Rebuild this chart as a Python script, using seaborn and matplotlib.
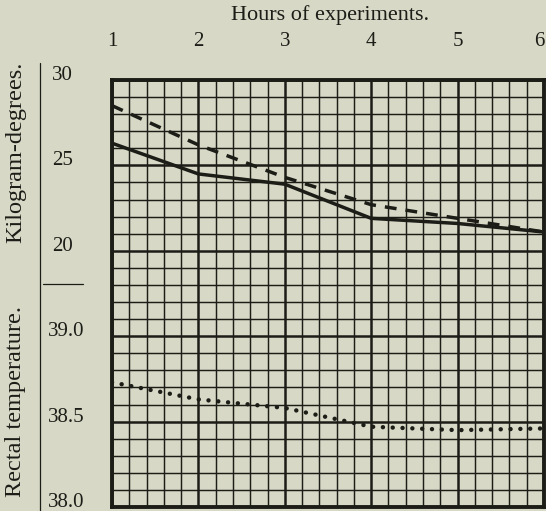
import matplotlib
matplotlib.use("Agg")
import matplotlib.pyplot as plt
import matplotlib.transforms as mtransforms
from matplotlib.lines import Line2D
import pandas as pd
import seaborn as sns

# Hourly readings
hours = [1, 2, 3, 4, 5, 6]
kg_degrees_solid = [26.3, 24.5, 23.9, 21.9, 21.6, 21.1]
kg_degrees_dashed = [28.5, 26.2, 24.3, 22.7, 21.9, 21.1]
rectal_temp = [38.73, 38.63, 38.58, 38.47, 38.45, 38.46]

hour_labels = ["1", "2", "3", "4", "5", "6"]
kg_ticks = [30, 25, 20]
temp_ticks = [39.0, 38.5, 38.0]
temp_tick_labels = ["39.0", "38.5", "38.0"]

sns.set_theme(style="white")
plt.rcParams["font.family"] = ["Liberation Serif", "DejaVu Serif"]

paper = "#d7d9c6"
ink = "#1d1d18"
W, H = 546, 511

fig = plt.figure(figsize=(W / 100, H / 100), dpi=100, facecolor=paper)
ax = fig.add_axes([112 / W, 1 - 507 / H, (544 - 112) / W, (507 - 80) / H])
ax.set_facecolor(paper)

kg = pd.DataFrame({
    "hour": hours * 2,
    "value": kg_degrees_solid + kg_degrees_dashed,
    "series": ["solid"] * len(hours) + ["dashed"] * len(hours),
})
sns.lineplot(data=kg, x="hour", y="value", style="series",
             dashes={"solid": "", "dashed": (3.4, 2.6)},
             color=ink, lw=2.5, legend=False, ax=ax, zorder=5,
             solid_capstyle="butt")

ax2 = ax.twinx()
temp = pd.DataFrame({"hour": hours, "temp": rectal_temp})
sns.lineplot(data=temp, x="hour", y="temp", color=ink, lw=3.2,
             linestyle=(0, (0.01, 2.2)), dash_capstyle="round",
             legend=False, ax=ax2, zorder=5)

ax.set_xlim(1, 6)
ax.set_ylim(5, 30)
ax2.set_ylim(38.0, 40.5)
ax2.set_axis_off()

# ruled paper: fine lines every 0.2 h / 1 unit, heavier every hour / 5 units
ax.set_xticks(hours)
ax.set_xticks([1 + i * 0.2 for i in range(26)], minor=True)
ax.set_yticks([5, 10, 15, 20, 25, 30])
ax.set_yticks(list(range(5, 31)), minor=True)
ax.grid(which="minor", color=ink, lw=1.05)
ax.grid(which="major", color=ink, lw=1.8)
ax.set_axisbelow(True)
ax.xaxis.tick_top()
ax.set_xticklabels(hour_labels, fontsize=15, color=ink)
ax.tick_params(axis="x", which="both", length=0, pad=21)
ax.tick_params(axis="y", which="both", length=0, labelleft=False)
ax.get_xticklabels()[-1].set_horizontalalignment("right")
ax.set_xlabel("")
ax.set_ylabel("")
for s in ax.spines.values():
    s.set_visible(True)
    s.set_color(ink)
    s.set_linewidth(2.8)

# left-hand scales
kg_tr = mtransforms.blended_transform_factory(fig.transFigure, ax.transData)
for v in kg_ticks:
    fig.text(52 / W, v, str(v), transform=kg_tr, ha="left", va="baseline",
             fontsize=15, color=ink)
t_tr = mtransforms.blended_transform_factory(fig.transFigure, ax2.transData)
for v, lab in zip(temp_ticks, temp_tick_labels):
    fig.text(48 / W, v, lab, transform=t_tr, ha="left", va="baseline",
             fontsize=15, color=ink)

fig.add_artist(Line2D([40 / W, 40 / W], [1 - 63 / H, 0], transform=fig.transFigure,
                      color=ink, lw=0.9))
fig.add_artist(Line2D([43 / W, 83 / W], [1 - 284 / H, 1 - 284 / H],
                      transform=fig.transFigure, color=ink, lw=0.9))

fig.text(16 / W, 1 - 152 / H, "Kilogram-degrees.", rotation=90, ha="center",
         va="center", fontsize=17.5, color=ink)
fig.text(16 / W, 1 - 401 / H, "Rectal temperature.", rotation=90, ha="center",
         va="center", fontsize=17.5, color=ink)
fig.text(330 / W, 1 - 15 / H, "Hours of experiments.", ha="center", va="center",
         fontsize=16, color=ink)

fig.savefig("out.png", dpi=100, facecolor=paper)
